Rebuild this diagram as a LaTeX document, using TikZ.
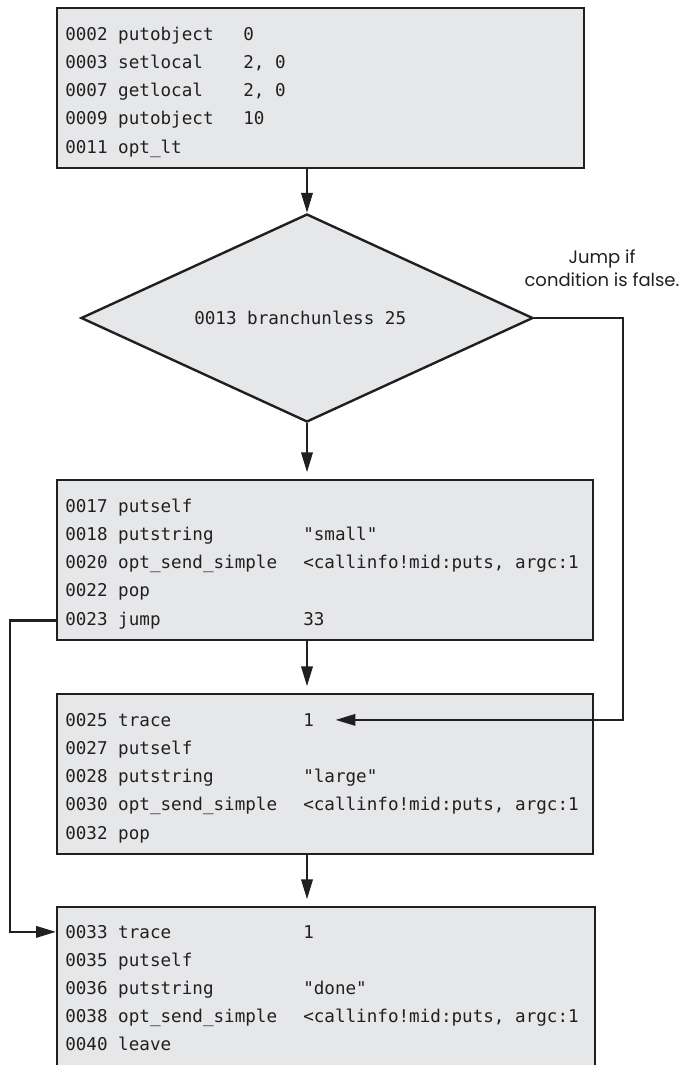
\documentclass[tikz,border=0pt]{standalone}
\usepackage{fontspec}
\usetikzlibrary{arrows.meta,shapes.geometric,calc}
\newfontfamily\codefont{DejaVu Sans Mono}
\newfontfamily\labelfont{Poppins}
\definecolor{boxfill}{RGB}{230,231,232}
\definecolor{ink}{RGB}{35,31,32}
\begin{document}
\begin{tikzpicture}[x=0.75pt,y=-0.75pt,
  codebox/.style={draw=ink, line width=1.8pt, fill=boxfill, rectangle, inner sep=0pt, anchor=north west, minimum height=120pt},
  decision/.style={draw=ink, line width=1.8pt, fill=boxfill, diamond, inner sep=0pt, minimum width=339pt, minimum height=156pt},
  codetext/.style={font=\codefont\fontsize{13.2}{15}\selectfont, anchor=base west, inner sep=0pt, text=ink},
  notetext/.style={font=\labelfont\fontsize{13.5}{17.5}\selectfont, align=center, inner sep=0pt, text=ink},
  flow/.style={draw=ink, line width=1.9pt, -{Triangle[length=15pt,width=8.5pt]}},
  ]
\useasboundingbox (0,0) rectangle (682,1065);

% boxes
\node[codebox, minimum width=395pt] (b1) at (56,7) {};
\node[decision] (d) at (307,318) {};
\node[codebox, minimum width=402pt] (b2) at (56,479) {};
\node[codebox, minimum width=402pt] (b3) at (56,693) {};
\node[codebox, minimum width=403.5pt] (b4) at (56,906) {};

% box 1 text
\foreach \a/\b [count=\i] in {0002 putobject/0, 0003 setlocal/{2, 0}, 0007 getlocal/{2, 0}, 0009 putobject/10, 0011 opt\_lt/{}}{
  \node[codetext] (b1l\i) at (65,{40.3+28.2*(\i-1)}) {\a};
  \node[codetext] (b1r\i) at (243,{40.3+28.2*(\i-1)}) {\b};
}
% diamond text
\node[codetext] (dt) at (194,324.3) {0013 branchunless 25};

% box 2 text
\foreach \a/\b [count=\i] in {0017 putself/{}, 0018 putstring/"small", 0020 opt\_send\_simple/{<callinfo!mid:puts, argc:1}, 0022 pop/{}, 0023 jump/33}{
  \node[codetext] (b2l\i) at (65,{512.3+28.2*(\i-1)}) {\a};
  \node[codetext] (b2r\i) at (303,{512.3+28.2*(\i-1)}) {\b};
}
% box 3 text
\foreach \a/\b [count=\i] in {0025 trace/1, 0027 putself/{}, 0028 putstring/"large", 0030 opt\_send\_simple/{<callinfo!mid:puts, argc:1}, 0032 pop/{}}{
  \node[codetext] (b3l\i) at (65,{726.3+28.2*(\i-1)}) {\a};
  \node[codetext] (b3r\i) at (303,{726.3+28.2*(\i-1)}) {\b};
}
% box 4 text
\foreach \a/\b [count=\i] in {0033 trace/1, 0035 putself/{}, 0036 putstring/"done", 0038 opt\_send\_simple/{<callinfo!mid:puts, argc:1}, 0040 leave/{}}{
  \node[codetext] (b4l\i) at (65,{938.3+28.0*(\i-1)}) {\a};
  \node[codetext] (b4r\i) at (303,{938.3+28.0*(\i-1)}) {\b};
}

% note
\node[notetext] (note) at (602,268) {Jump if\\condition is false.};

% connectors
\draw[flow] (b1.south -| d.north) -- (d.north);
\draw[flow, shorten >=5pt] (d.south) -- (d.south |- b2.north);
\draw[flow, shorten >=5pt] (b2.south -| d.south) -- (d.south |- b3.north);
\draw[flow, shorten >=5pt] (b3.south -| d.south) -- (d.south |- b4.north);
\draw[flow, shorten >=16pt] (d.east) -- ++(89,0) |- (b3r1.east);
\draw[flow] (b2l5.west -| b2.west) -- ++(-46,0) |- (b4l1.west -| b4.west);
\end{tikzpicture}
\end{document}
